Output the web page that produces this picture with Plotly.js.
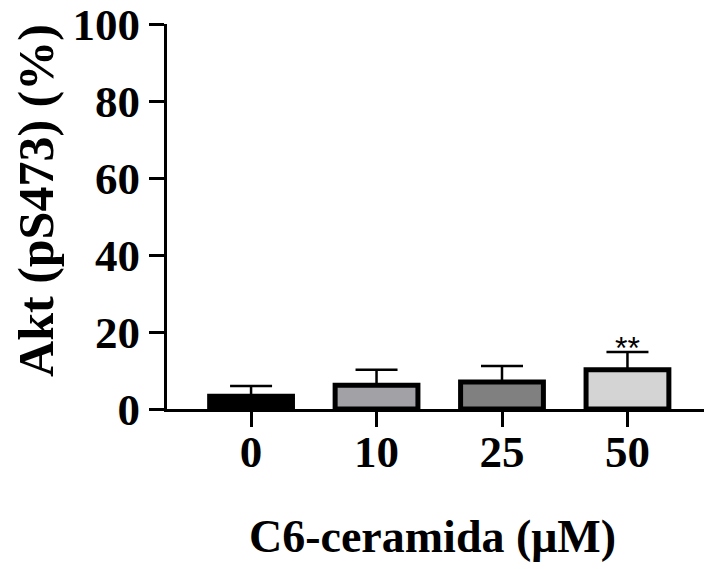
<!DOCTYPE html>
<html>
<head>
<meta charset="utf-8">
<script src="https://cdn.plot.ly/plotly-3.0.1.min.js"></script>
<style>html,body{margin:0;padding:0;background:#fff;}#chart{width:704px;height:569px;}</style>
</head>
<body>
<div id="chart"></div>
<script>
// Data
const categories = ['0', '10', '25', '50'];
const values = [3.3, 6.2, 7.0, 10.2];
const errors = [2.7, 4.0, 4.2, 4.6];
const barColors = ['#000000', '#a2a2a6', '#808080', '#d4d4d4'];
const significance = ['', '', '', '**'];
const yTicks = [0, 20, 40, 60, 80, 100];
const xTitle = 'C6-ceramida (μM)';
const yTitle = 'Akt (pS473) (%)';

const serif = 'Liberation Serif, Times New Roman, serif';

const trace = {
  type: 'bar',
  x: categories,
  y: values,
  width: 0.66,
  marker: {color: barColors, line: {color: '#000', width: 5}},
  error_y: {
    type: 'data', symmetric: false, array: errors,
    arrayminus: errors.map(() => 0),
    color: '#000', thickness: 2.5, width: 21
  },
  hoverinfo: 'none'
};

const annotations = [];
categories.forEach((c, i) => {
  if (significance[i]) {
    annotations.push({
      x: i, y: values[i] + errors[i], xref: 'x', yref: 'y',
      text: significance[i], showarrow: false,
      xanchor: 'center', yanchor: 'bottom', yshift: -16,
      font: {family: 'Liberation Sans, Arial, sans-serif', size: 32, color: '#000'}
    });
  }
});
annotations.push({
  x: -0.244, y: 0.543, xref: 'paper', yref: 'paper',
  text: yTitle, showarrow: false, textangle: -90,
  xanchor: 'center', yanchor: 'middle',
  font: {family: serif, size: 50, color: '#000', weight: 'bold'}
});
annotations.push({
  x: 0.494, y: -0.33, xref: 'paper', yref: 'paper',
  text: xTitle, showarrow: false,
  xanchor: 'center', yanchor: 'middle',
  font: {family: serif, size: 46, color: '#000', weight: 'bold'}
});

const layout = {
  width: 704, height: 569,
  margin: {l: 167, r: 0, t: 24, b: 160},
  paper_bgcolor: '#fff', plot_bgcolor: '#fff',
  showlegend: false,
  xaxis: {
    type: 'category',
    range: [-0.67, 3.61],
    showline: true, linecolor: '#000', linewidth: 3,
    ticks: 'outside', ticklen: 15, tickwidth: 3, tickcolor: '#000',
    showgrid: false, zeroline: false,
    ticklabelstandoff: -14,
    tickfont: {family: serif, size: 45, color: '#000', weight: 'bold'},
    automargin: false, fixedrange: true
  },
  yaxis: {
    range: [0, 100],
    tickvals: yTicks, ticktext: yTicks.map(String),
    showline: true, linecolor: '#000', linewidth: 3,
    ticks: 'outside', ticklen: 15, tickwidth: 3, tickcolor: '#000',
    showgrid: false, zeroline: false,
    ticklabeloverflow: 'allow',
    tickfont: {family: serif, size: 45, color: '#000', weight: 'bold'},
    automargin: false, fixedrange: true
  },
  annotations: annotations
};

Plotly.newPlot('chart', [trace], layout, {staticPlot: true, displayModeBar: false});
</script>
</body>
</html>
